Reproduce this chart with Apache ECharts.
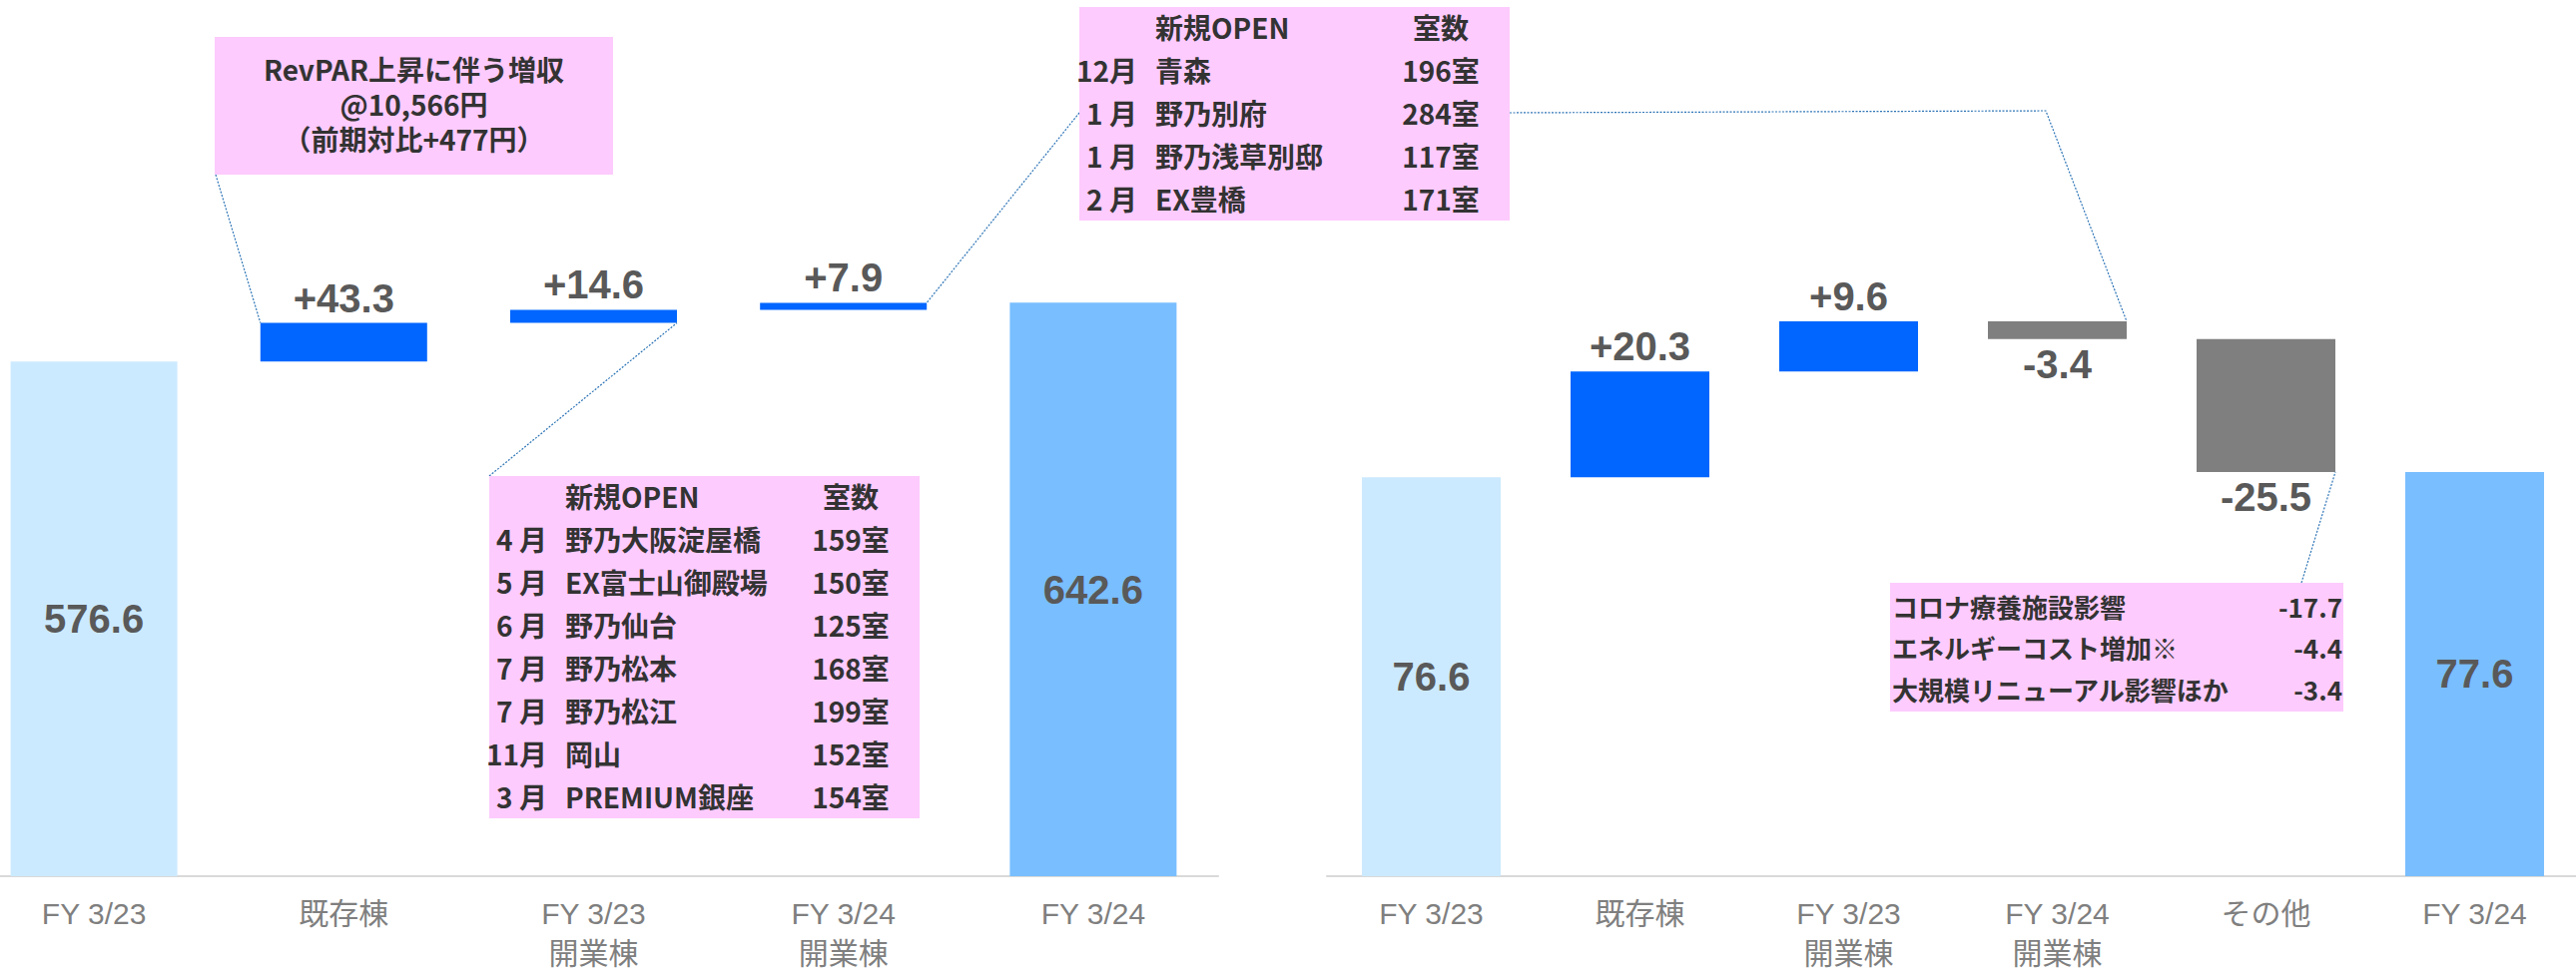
<!DOCTYPE html>
<html>
<head>
<meta charset="utf-8">
<script src="https://cdn.jsdelivr.net/npm/echarts@6/dist/echarts.min.js"></script>
<style>
  html, body { margin: 0; padding: 0; background: #fff; }
  #main { width: 2580px; height: 971px; }
</style>
</head>
<body>
<div id="main"></div>
<script>
// ---------------- データ ----------------
// 左：売上高
const salesCats = ['FY 3/23', '既存棟', 'FY 3/23\n開業棟', 'FY 3/24\n開業棟', 'FY 3/24'];
const salesValues = [576.6, 43.3, 14.6, 7.9, 642.6];
const salesTypes = ['total', 'delta', 'delta', 'delta', 'total'];

// 右：営業利益
const profitCats = ['FY 3/23', '既存棟', 'FY 3/23\n開業棟', 'FY 3/24\n開業棟', 'その他', 'FY 3/24'];
const profitValues = [76.6, 20.3, 9.6, -3.4, -25.5, 77.6];
const profitTypes = ['total', 'delta', 'delta', 'delta', 'delta', 'total'];

// 注記
const revparLines = ['RevPAR上昇に伴う増収', '@10,566円', '（前期対比+477円）'];
const open23Months = ['4 月', '5 月', '6 月', '7 月', '7 月', '11月', '3 月'];
const open23Names = ['野乃大阪淀屋橋', 'EX富士山御殿場', '野乃仙台', '野乃松本', '野乃松江', '岡山', 'PREMIUM銀座'];
const open23Rooms = ['159室', '150室', '125室', '168室', '199室', '152室', '154室'];
const open24Months = ['12月', '1 月', '1 月', '2 月'];
const open24Names = ['青森', '野乃別府', '野乃浅草別邸', 'EX豊橋'];
const open24Rooms = ['196室', '284室', '117室', '171室'];
const otherItems = ['コロナ療養施設影響', 'エネルギーコスト増加※', '大規模リニューアル影響ほか'];
const otherValues = [-17.7, -4.4, -3.4];

// ---------------- 色 ----------------
const C_START = '#CCEAFF';
const C_END = '#79BEFF';
const C_UP = '#0066FF';
const C_DOWN = '#7F7F7F';
const C_NOTE = '#FDCBFD';
const C_LEAD = '#2E75B6';

const LATIN = '"Liberation Sans", Arial, "Noto Sans CJK JP", sans-serif';
const JP = '"Noto Sans CJK JP", "Liberation Sans", sans-serif';

// ウォーターフォール用に透明な土台と見える棒を作る
function buildWaterfall(values, types) {
  let run = 0;
  const base = [], bars = [], texts = [], tops = [], bottoms = [];
  values.forEach(function (v, i) {
    if (types[i] === 'total') {
      run = v;
      base.push(0);
      bars.push({ value: v, itemStyle: { color: i === 0 ? C_START : C_END }, label: { position: 'inside' } });
      texts.push(v.toFixed(1));
      bottoms.push(0); tops.push(v);
    } else if (v >= 0) {
      base.push(run);
      bottoms.push(run);
      run += v;
      tops.push(run);
      bars.push({ value: v, itemStyle: { color: C_UP }, label: { position: 'top' } });
      texts.push('+' + v.toFixed(1));
    } else {
      tops.push(run);
      run += v;
      bottoms.push(run);
      base.push(run);
      bars.push({ value: -v, itemStyle: { color: C_DOWN }, label: { position: 'bottom' } });
      texts.push(v.toFixed(1));
    }
  });
  return { base: base, bars: bars, texts: texts, tops: tops, bottoms: bottoms };
}

const L = buildWaterfall(salesValues, salesTypes);
const R = buildWaterfall(profitValues, profitTypes);

const BAR_L = 167;
const BAR_R = 139;

let myChart = echarts.init(document.getElementById('main'), null, { renderer: 'svg' });

function xAxisOpt(cats, idx) {
  return {
    type: 'category',
    gridIndex: idx,
    data: cats,
    axisTick: { show: false },
    axisLine: { lineStyle: { color: '#D9D9D9', width: 2 } },
    axisLabel: {
      color: '#7F7F7F',
      fontSize: 30,
      lineHeight: 40,
      margin: 17,
      fontFamily: LATIN,
      interval: 0
    }
  };
}

function valueLabel(texts) {
  return {
    show: true,
    fontSize: 40,
    fontWeight: 'bold',
    color: '#595959',
    fontFamily: LATIN,
    distance: 5,
    formatter: function (p) { return texts[p.dataIndex]; }
  };
}

let option = {
  animation: false,
  backgroundColor: '#fff',
  grid: [
    { left: -31, width: 1251, top: 73, height: 805, outerBoundsMode: 'none', containLabel: false },
    { left: 1329, width: 1254, top: 95, height: 783, outerBoundsMode: 'none', containLabel: false }
  ],
  xAxis: [xAxisOpt(salesCats, 0), xAxisOpt(profitCats, 1)],
  yAxis: [
    { type: 'value', gridIndex: 0, min: 0, max: 900, show: false, splitLine: { show: false } },
    { type: 'value', gridIndex: 1, min: 0, max: 150, show: false, splitLine: { show: false } }
  ],
  series: [
    {
      type: 'bar', xAxisIndex: 0, yAxisIndex: 0, stack: 'L', barWidth: BAR_L, silent: true,
      itemStyle: { color: 'rgba(0,0,0,0)' }, data: L.base
    },
    {
      type: 'bar', xAxisIndex: 0, yAxisIndex: 0, stack: 'L', barWidth: BAR_L, silent: true,
      label: valueLabel(L.texts), data: L.bars
    },
    {
      type: 'bar', xAxisIndex: 1, yAxisIndex: 1, stack: 'R', barWidth: BAR_R, silent: true,
      itemStyle: { color: 'rgba(0,0,0,0)' }, data: R.base
    },
    {
      type: 'bar', xAxisIndex: 1, yAxisIndex: 1, stack: 'R', barWidth: BAR_R, silent: true,
      label: valueLabel(R.texts), data: R.bars
    }
  ]
};
myChart.setOption(option);

// ---------------- 注記（吹き出し） ----------------
function px(gridIdx, i, v) {
  return myChart.convertToPixel({ xAxisIndex: gridIdx, yAxisIndex: gridIdx }, [i, v]);
}

function txt(x, y, text, align, size) {
  return {
    type: 'text', x: x, y: y, silent: true, z: 20,
    style: {
      text: text, fill: '#333', align: align, verticalAlign: 'middle',
      fontSize: size || 28, fontWeight: 'bold', fontFamily: JP
    }
  };
}

function box(x, y, w, h) {
  return { type: 'rect', shape: { x: x, y: y, width: w, height: h }, style: { fill: C_NOTE }, silent: true, z: 10 };
}

function openTable(x, y, w, h, months, names, rooms) {
  const els = [box(x, y, w, h)];
  els.push(txt(x + 76, y + 20, '新規OPEN', 'left'));
  els.push(txt(x + 362, y + 20, '室数', 'center'));
  months.forEach(function (m, i) {
    const cy = y + 20 + 43 * (i + 1);
    els.push(txt(x + 58, cy, m, 'right'));
    els.push(txt(x + 76, cy, names[i], 'left'));
    els.push(txt(x + 362, cy, rooms[i], 'center'));
  });
  return els;
}

function lead(points) {
  return {
    type: 'polyline', silent: true, z: 5,
    shape: { points: points },
    style: { stroke: C_LEAD, lineWidth: 1.2, lineDash: [2, 1.5], fill: null }
  };
}

const hl = BAR_L / 2, hr = BAR_R / 2;
const graphics = [];

// RevPAR box
graphics.push(box(215, 37, 399, 138));
revparLines.forEach(function (s, i) {
  graphics.push(txt(414.5, 69 + 35 * i, s, 'center'));
});
const b1 = px(0, 1, L.tops[1]);
graphics.push(lead([[216, 175], [b1[0] - hl, b1[1]]]));

// FY3/23 開業棟 table
openTable(490, 477, 431, 343, open23Months, open23Names, open23Rooms).forEach(function (e) { graphics.push(e); });
const b2 = px(0, 2, L.bottoms[2]);
graphics.push(lead([[490, 477], [b2[0] + hl, b2[1]]]));

// FY3/24 開業棟 table
openTable(1081, 7, 431, 214, open24Months, open24Names, open24Rooms).forEach(function (e) { graphics.push(e); });
const b3 = px(0, 3, L.tops[3]);
graphics.push(lead([[1081, 113], [b3[0] + hl, b3[1]]]));
const r3 = px(1, 3, R.tops[3]);
graphics.push(lead([[1512, 113], [2049, 111], [r3[0] + hr, r3[1]]]));

// その他 内訳
graphics.push(box(1893, 584, 454, 129));
otherItems.forEach(function (s, i) {
  const cy = 607 + 41.5 * i;
  graphics.push(txt(1895, cy, s, 'left', 26));
  graphics.push(txt(2346, cy, otherValues[i].toFixed(1), 'right', 26));
});
const r4 = px(1, 4, R.bottoms[4]);
graphics.push(lead([[2305, 584], [r4[0] + hr, r4[1]]]));

myChart.setOption({ graphic: graphics });
</script>
</body>
</html>
